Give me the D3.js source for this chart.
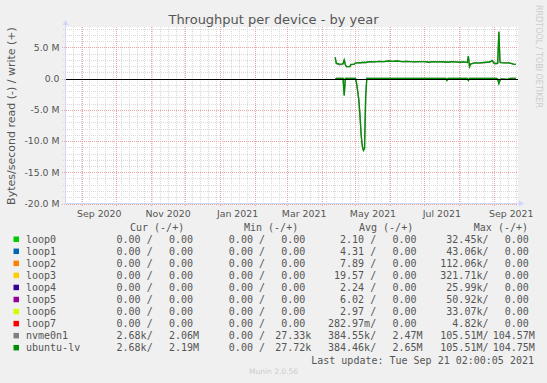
<!doctype html>
<html>
<head>
<meta charset="UTF-8">
<title>Throughput per device - by year</title>
<script src="https://d3js.org/d3.v7.min.js"></script>
<style>
  body { margin: 0; background: #f0f0f0; }
  svg text { font-family: "DejaVu Sans", sans-serif; fill: #555; }
  svg .mono { font-family: "DejaVu Sans Mono", monospace; font-size: 10px; white-space: pre; }
</style>
</head>
<body>
<script>
// throughput in M bytes/s, one value per date
var dates = ["2021-04-13","2021-04-14","2021-04-17","2021-04-19","2021-04-20","2021-04-21","2021-04-22","2021-04-23",
  "2021-04-26","2021-04-27","2021-04-30","2021-05-01","2021-05-02","2021-05-04","2021-05-05","2021-05-06",
  "2021-05-07","2021-05-08","2021-05-09","2021-05-10","2021-05-11","2021-05-14","2021-05-18","2021-05-22",
  "2021-05-26","2021-05-30","2021-06-03","2021-06-07","2021-06-11","2021-06-15","2021-06-19","2021-06-23",
  "2021-06-27","2021-07-01","2021-07-05","2021-07-09","2021-07-13","2021-07-17","2021-07-20","2021-07-21",
  "2021-07-22","2021-07-25","2021-07-29","2021-08-02","2021-08-05","2021-08-08","2021-08-09","2021-08-10",
  "2021-08-11","2021-08-14","2021-08-19","2021-08-24","2021-08-28","2021-08-30","2021-09-01","2021-09-03",
  "2021-09-04","2021-09-05","2021-09-06","2021-09-07","2021-09-10","2021-09-13","2021-09-15","2021-09-18","2021-09-20"];

var ubuntuWrite = [3.4,2.45,2.3,2.35,2.4,3.0,2.2,1.9, 1.9,2.25,2.3,2.45,2.5,2.5,2.55,2.5,
  2.6,2.55,2.6,2.55,2.6,2.7,2.65,2.75, 2.7,2.8,2.75,2.8,2.7,2.75,2.7,2.65,
  2.7,2.7,2.6,2.7,2.65,2.7,2.6,2.65, 2.6,2.7,2.65,2.6,2.65,2.55,3.6,1.9,
  2.3,2.5,2.5,2.6,2.65,2.9,2.4,2.4, 2.45,7.5,2.65,2.55,2.5,2.5,2.45,2.3,2.25];
var ubuntuRead = [0.15,0,0,0,0,2.7,0,0, 0,0,0,0,0.8,3.5,6.0,9.0,
  10.8,11.5,11.2,3.0,0,0,0,0, 0,0,0,0,0,0,0,0,
  0,0,0,0,0,0,0,0.3, 0,0,0,0,0,0,0.3,0,
  0,0,0,0,0,0,0,0, 0.1,0.8,0.3,0.05,0.1,0.15,0,0,0];
var nvmeWrite = [3.4,2.35,2.2,2.25,2.3,3.0,2.2,1.9, 1.9,2.2,2.3,2.45,2.5,2.5,2.55,2.5,
  2.6,2.55,2.6,2.55,2.6,2.7,2.65,2.75, 2.7,2.8,2.75,2.8,2.7,2.75,2.7,2.65,
  2.7,2.7,2.6,2.7,2.65,2.7,2.6,2.65, 2.6,2.7,2.65,2.6,2.65,2.55,3.5,1.9,
  2.3,2.45,2.45,2.55,2.6,2.85,2.4,2.4, 2.45,7.4,2.6,2.55,2.5,2.5,2.45,2.3,2.25];
var nvmeRead = [0.15,0,0,0,0,2.7,0,0, 0,0,0,0,0.8,3.5,6.0,9.0,
  10.8,11.5,11.2,3.0,0,0,0,0, 0,0,0,0,0,0,0,0,
  0,0,0,0,0,0,0,0.3, 0,0,0,0,0,0,0.3,0,
  0,0,0,0,0,0,0,0, 0.1,0.8,0.3,0.05,0.1,0.15,0,0,0];

var devices = ["loop0","loop1","loop2","loop3","loop4","loop5","loop6","loop7","nvme0n1","ubuntu-lv"];
var colors  = ["#00cc00","#0066b3","#ff8000","#ffcc00","#330099","#990099","#ccff00","#ff0000","#808080","#008f00"];
var curRead  = ["0.00","0.00","0.00","0.00","0.00","0.00","0.00","0.00","2.68k","2.68k"];
var curWrite = ["0.00","0.00","0.00","0.00","0.00","0.00","0.00","0.00","2.06M","2.19M"];
var minRead  = ["0.00","0.00","0.00","0.00","0.00","0.00","0.00","0.00","0.00","0.00"];
var minWrite = ["0.00","0.00","0.00","0.00","0.00","0.00","0.00","0.00","27.33k","27.72k"];
var avgRead  = ["2.10","4.31","7.89","19.57","2.24","6.02","2.97","282.97m","384.55k","384.46k"];
var avgWrite = ["0.00","0.00","0.00","0.00","0.00","0.00","0.00","0.00","2.47M","2.65M"];
var maxRead  = ["32.45k","43.06k","112.06k","321.71k","25.99k","50.92k","33.07k","4.82k","105.51M","105.51M"];
var maxWrite = ["0.00","0.00","0.00","0.00","0.00","0.00","0.00","0.00","104.57M","104.75M"];

var yTicks = [5,0,-5,-10,-15,-20];
var yTickLabels = ["5.0 M","0.0","-5.0 M","-10.0 M","-15.0 M","-20.0 M"];

var W = 547, H = 383;
var pLeft = 65.5, pRight = 517, pTop = 27, pBottom = 203.5;
var end = new Date(Date.UTC(2021, 8, 21, 2, 0, 5));
var start = new Date(end.getTime() - 400 * 864e5);
var parse = d3.utcParse("%Y-%m-%d");

var svg = d3.select("body").append("svg").attr("width", W).attr("height", H);

var x = d3.scaleUtc().domain([start, end]).range([pLeft, pRight]);
var y = d3.scaleLinear().domain([-20, 8.24]).range([pBottom, pTop]);

// canvas
svg.append("rect").attr("x", 66).attr("y", pTop).attr("width", 518 - 66).attr("height", pBottom - pTop).attr("fill", "#fff");

var grid = svg.append("g");
// minor grid
d3.utcMonday.range(start, end).forEach(function(d) {
  var xx = Math.round(x(d)) + 0.5;
  grid.append("line").attr("x1", xx).attr("x2", xx).attr("y1", pTop).attr("y2", pBottom + 2)
    .attr("stroke", "#dadada").attr("stroke-dasharray", "1,1");
});
d3.range(-20, 9, 1).filter(function(v) { return v % 5 != 0; }).forEach(function(v) {
  var yy = Math.round(y(v)) + 0.5;
  grid.append("line").attr("x1", 63).attr("x2", 518).attr("y1", yy).attr("y2", yy)
    .attr("stroke", "#dadada").attr("stroke-dasharray", "1,1");
});
// major grid
d3.utcMonth.range(start, end).forEach(function(d) {
  var xx = Math.round(x(d)) + 0.5;
  grid.append("line").attr("x1", xx).attr("x2", xx).attr("y1", pTop).attr("y2", pBottom + 3)
    .attr("stroke", "#eda4a4").attr("stroke-dasharray", "1,1");
});
yTicks.forEach(function(v) {
  var yy = Math.round(y(v)) + 0.5;
  grid.append("line").attr("x1", 62).attr("x2", 518).attr("y1", yy).attr("y2", yy)
    .attr("stroke", "#eda4a4").attr("stroke-dasharray", "1,1");
});

// axes
svg.append("line").attr("x1", pLeft).attr("x2", 520).attr("y1", pBottom).attr("y2", pBottom).attr("stroke", "#cfd6f8");
svg.append("line").attr("x1", pLeft).attr("x2", pLeft).attr("y1", pBottom).attr("y2", 24).attr("stroke", "#cfd6f8");
svg.append("path").attr("d", "M519,200.5L524,203.5L519,206.5Z").attr("fill", "#cfd6f8");
svg.append("path").attr("d", "M62.5,25L65.5,20L68.5,25Z").attr("fill", "#cfd6f8");

// y tick labels
svg.selectAll(".ylab").data(yTicks).enter().append("text")
  .attr("x", 59.5).attr("y", function(d) { return y(d) + 3.3; })
  .attr("text-anchor", "end").style("font-size", "9.3px")
  .text(function(d, i) { return yTickLabels[i]; });

// x labels every two months, centred on the month
d3.utcMonth.range(d3.utcMonth.ceil(start), end).filter(function(d) { return d.getUTCMonth() % 2 == 0; })
  .forEach(function(d) {
    var mid = (x(d) + x(d3.utcMonth.offset(d, 1))) / 2;
    svg.append("text").attr("x", mid).attr("y", 216.5).attr("text-anchor", "middle")
      .style("font-size", "9.4px").text(d3.utcFormat("%b %Y")(d));
  });

// series
var line = d3.line().x(function(d) { return x(d.t); }).y(function(d) { return y(d.v); });
function pts(vals, sign) {
  return dates.map(function(s, i) { return { t: parse(s), v: sign * vals[i] }; });
}
var plot = svg.append("g");
[[nvmeWrite, 1, colors[8]], [nvmeRead, -1, colors[8]], [ubuntuWrite, 1, colors[9]], [ubuntuRead, -1, colors[9]]]
  .forEach(function(s) {
    plot.append("path").attr("d", line(pts(s[0], s[1]))).attr("fill", "none")
      .attr("stroke", s[2]).attr("stroke-width", 1.3);
  });

// zero line
svg.append("line").attr("x1", 66).attr("x2", 518).attr("y1", Math.round(y(0)) + 0.5).attr("y2", Math.round(y(0)) + 0.5)
  .attr("stroke", "#000");

// titles
svg.append("text").attr("x", 273.5).attr("y", 24).attr("text-anchor", "middle").style("font-size", "13px")
  .text("Throughput per device - by year");
svg.append("text").attr("transform", "translate(15,116) rotate(-90)").attr("text-anchor", "middle")
  .style("font-size", "11px").text("Bytes/second read (-) / write (+)");
svg.append("text").attr("transform", "translate(535.5,5) rotate(90)").attr("text-anchor", "start")
  .style("font-size", "8px").style("fill", "#ccc").text("RRDTOOL / TOBI OETIKER");

// legend
var fieldX = [104.5, 216.8, 328, 440.3];
var writeOff = 52.4;
var headers = ["Cur (-/+)", "Min (-/+)", "Avg (-/+)", "Max (-/+)"];
var headX = [130, 244, 359, 473.8];
headers.forEach(function(h, i) {
  svg.append("text").attr("class", "mono").attr("x", headX[i]).attr("y", 230.5).text(h);
});
function fld(s) {
  var u = /[kMm]$/.test(s) ? s.slice(-1) : " ";
  var n = u == " " ? s : s.slice(0, -1);
  return n.padStart(6) + u;
}
var cols = [[curRead, curWrite], [minRead, minWrite], [avgRead, avgWrite], [maxRead, maxWrite]];
devices.forEach(function(dev, i) {
  var by = 243 + i * 12.05;
  svg.append("rect").attr("x", 13.5).attr("y", by - 6.5).attr("width", 5.5).attr("height", 5.5).attr("fill", colors[i]);
  svg.append("text").attr("class", "mono").attr("x", 26).attr("y", by).text(dev);
  cols.forEach(function(c, j) {
    svg.append("text").attr("class", "mono").attr("x", fieldX[j]).attr("y", by).text(fld(c[0][i]) + "/");
    svg.append("text").attr("class", "mono").attr("x", fieldX[j] + writeOff).attr("y", by).text(fld(c[1][i]));
  });
});
svg.append("text").attr("class", "mono").attr("x", 534).attr("y", 363.5).attr("text-anchor", "end")
  .text("Last update: Tue Sep 21 02:00:05 2021");
svg.append("text").attr("x", 273.5).attr("y", 374).attr("text-anchor", "middle")
  .style("font-size", "7.5px").style("fill", "#ccc").text("Munin 2.0.56");
</script>
</body>
</html>
